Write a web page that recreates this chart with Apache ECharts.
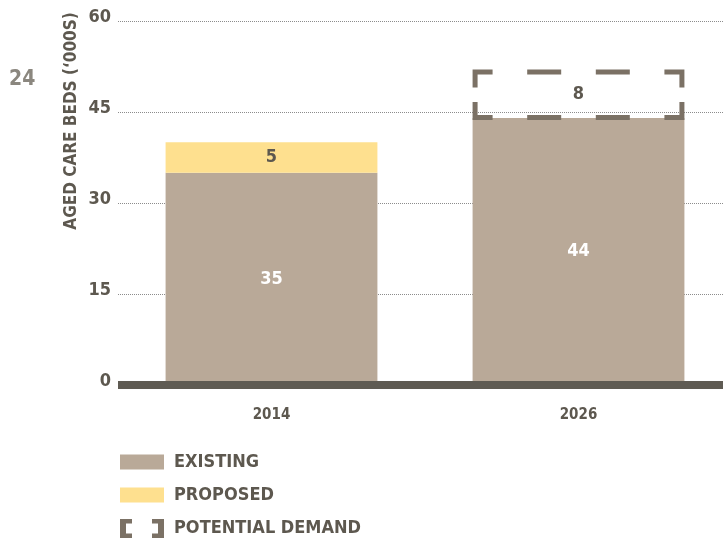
<!DOCTYPE html>
<html>
<head>
<meta charset="utf-8">
<style>
  html, body { margin: 0; padding: 0; background: #fff; }
  #chart { width: 723px; height: 541px; }
</style>
<script src="https://cdn.jsdelivr.net/npm/echarts@6/dist/echarts.min.js"></script>
</head>
<body>
<div id="chart"></div>
<script>
// Aged care beds ('000s), existing and proposed supply vs potential demand
const years = ['2014', '2026'];
const existing = [35, 44];
const proposed = [5, null];
const potentialDemand = [null, 8];
const seriesNames = ['EXISTING', 'PROPOSED', 'POTENTIAL DEMAND'];
const yMin = 0, yMax = 60, yStep = 15;

const FONT = "'DejaVu Sans Condensed', 'DejaVu Sans', sans-serif";
const TEXT = '#5d584f';
const C_EXISTING = '#b9a998';
const C_PROPOSED = '#fee08f';
const C_DEMAND = '#7b7165';
const BAR_RATIO = 0.69;

// demand box sits on top of the existing bar of the same year
const demandData = potentialDemand
  .map((v, i) => (v == null ? null : [i, existing[i], v]))
  .filter(Boolean);

function renderDemand(params, api) {
  const cat = api.value(0), base = api.value(1), amt = api.value(2);
  const band = api.size([1, 0])[0];
  const w = band * BAR_RATIO;
  const bot = api.coord([cat, base]);
  const top = api.coord([cat, base + amt]);
  const sw = 5, h = sw / 2;
  const x0 = bot[0] - w / 2, x1 = bot[0] + w / 2;
  const yT = top[1], yB = bot[1] + 2;
  const L = x0 + h, R = x1 - h, T = yT + h, B = yB - h;
  const armH = 20, armV = 18, dash = 34;
  const gap = (w - 2 * armH - 2 * dash) / 3;
  const style = { stroke: C_DEMAND, lineWidth: sw, fill: null, lineJoin: 'miter', lineCap: 'butt' };
  const pl = pts => ({ type: 'polyline', shape: { points: pts }, style });
  const children = [
    pl([[x0 + armH, T], [L, T], [L, yT + armV]]),
    pl([[x1 - armH, T], [R, T], [R, yT + armV]]),
    pl([[x0 + armH, B], [L, B], [L, yB - armV]]),
    pl([[x1 - armH, B], [R, B], [R, yB - armV]])
  ];
  for (let k = 0; k < 2; k++) {
    const s = x0 + armH + gap + k * (dash + gap);
    children.push(pl([[s, T], [s + dash, T]]));
    children.push(pl([[s, B], [s + dash, B]]));
  }
  children.push({
    type: 'text',
    x: bot[0], y: (yT + yB) / 2,
    style: {
      text: String(amt), fill: TEXT, font: 'bold 18px ' + FONT,
      align: 'center', verticalAlign: 'middle'
    }
  });
  return { type: 'group', children };
}

const chart = echarts.init(document.getElementById('chart'), null, { renderer: 'canvas' });

const legendBase = {
  orient: 'vertical',
  left: 120,
  padding: 0,
  itemWidth: 44,
  selectedMode: false,
  textStyle: { color: TEXT, fontFamily: FONT, fontWeight: 'bold', fontSize: 18, padding: [0, 0, 0, 5] }
};

chart.setOption({
  animation: false,
  backgroundColor: '#ffffff',
  grid: { left: 118, width: 614, top: 21, bottom: 156, outerBoundsMode: 'none', containLabel: false },
  xAxis: {
    type: 'category',
    data: years,
    z: 10,
    axisLine: { lineStyle: { color: '#5f5b53', width: 8, cap: 'butt' } },
    axisTick: { show: false },
    axisLabel: { color: TEXT, fontFamily: FONT, fontWeight: 'bold', fontSize: 15, margin: 23 }
  },
  yAxis: {
    type: 'value',
    min: yMin, max: yMax, interval: yStep,
    axisLine: { show: false },
    axisTick: { show: false },
    axisLabel: {
      color: TEXT, fontFamily: FONT, fontWeight: 'bold', fontSize: 18,
      margin: 7, verticalAlign: 'bottom', lineHeight: 8
    },
    splitLine: { lineStyle: { color: '#8c8c8c', type: 'dotted', width: 1 } }
  },
  legend: [
    Object.assign({}, legendBase, {
      top: 453, itemHeight: 15,
      data: [{ name: seriesNames[0], icon: 'rect' }]
    }),
    Object.assign({}, legendBase, {
      top: 486, itemHeight: 15,
      data: [{ name: seriesNames[1], icon: 'rect' }]
    }),
    Object.assign({}, legendBase, {
      top: 519, itemHeight: 19,
      data: [{
        name: seriesNames[2],
        icon: 'path://M0,0H12V4.5H6V14.5H12V19H0Z M32,0H44V19H32V14.5H38V4.5H32Z',
        itemStyle: { color: C_DEMAND }
      }]
    })
  ],
  graphic: [
    {
      type: 'text', left: 9, top: 69,
      style: { text: '24', fill: '#8b877f', font: 'bold 21px ' + FONT }
    },
    {
      type: 'text', x: 72, y: 121, rotation: Math.PI / 2,
      style: {
        text: 'AGED CARE BEDS (\u2018000S)', fill: TEXT, font: 'bold 17px ' + FONT,
        align: 'center', verticalAlign: 'middle'
      }
    }
  ],
  series: [
    {
      name: seriesNames[0], type: 'bar', stack: 'beds', barWidth: (BAR_RATIO * 100) + '%',
      data: existing,
      itemStyle: { color: C_EXISTING },
      label: { show: true, position: 'inside', color: '#ffffff', fontFamily: FONT, fontWeight: 'bold', fontSize: 18 }
    },
    {
      name: seriesNames[1], type: 'bar', stack: 'beds', barWidth: (BAR_RATIO * 100) + '%',
      data: proposed,
      itemStyle: { color: C_PROPOSED },
      label: { show: true, position: 'inside', color: TEXT, fontFamily: FONT, fontWeight: 'bold', fontSize: 18 }
    },
    {
      name: seriesNames[2], type: 'custom',
      itemStyle: { color: C_DEMAND },
      renderItem: renderDemand,
      data: demandData,
      z: 3
    }
  ]
});
</script>
</body>
</html>
